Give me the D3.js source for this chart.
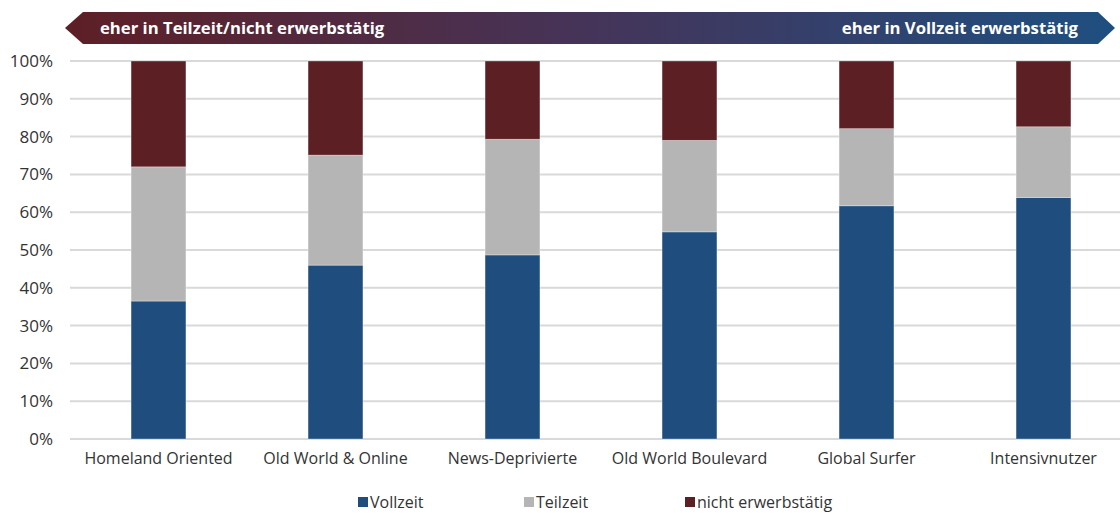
<!DOCTYPE html>
<html>
<head>
<meta charset="utf-8">
<script src="https://cdn.jsdelivr.net/npm/d3@7"></script>
<style>
  body { margin: 0; background: #fff; }
  svg { display: block; font-family: "Open Sans", sans-serif; }
</style>
</head>
<body>
<div class="chart"></div>
<script>
// data
const categories = ['Homeland Oriented', 'Old World & Online', 'News-Deprivierte', 'Old World Boulevard', 'Global Surfer', 'Intensivnutzer'];
const seriesNames = ['Vollzeit', 'Teilzeit', 'nicht erwerbstätig'];
const vollzeit = [36.5, 46.0, 48.7, 54.8, 61.7, 63.9];
const teilzeit = [35.5, 29.1, 30.6, 24.2, 20.4, 18.7];
const nichtErwerbstaetig = [28.0, 24.9, 20.7, 21.0, 17.9, 17.4];
const yTicks = [0, 10, 20, 30, 40, 50, 60, 70, 80, 90, 100];
const bannerLeft = 'eher in Teilzeit/nicht erwerbstätig';
const bannerRight = 'eher in Vollzeit erwerbstätig';

const colors = ['#1f4e7e', '#b5b5b5', '#5c1f24'];

const W = 1120, H = 513;
const margin = { top: 61, left: 70, bottom: 74 };
const plotW = 1062;
const height = H - margin.top - margin.bottom;

const svg = d3.select('.chart')
  .append('svg')
    .attr('width', W)
    .attr('height', H);

// banner with gradient arrow
const defs = svg.append('defs');
const grad = defs.append('linearGradient')
  .attr('id', 'bannerGrad')
  .attr('x1', '0%').attr('x2', '100%').attr('y1', '0%').attr('y2', '0%');
grad.append('stop').attr('offset', '0%').attr('stop-color', '#5e1f26');
grad.append('stop').attr('offset', '50%').attr('stop-color', '#453459');
grad.append('stop').attr('offset', '100%').attr('stop-color', '#1e4f80');

const bTop = 12, bBot = 44, bMid = (bTop + bBot) / 2;
svg.append('path')
  .attr('d', `M65,${bMid} L83,${bTop} L1098,${bTop} L1115,${bMid} L1098,${bBot} L83,${bBot} Z`)
  .attr('fill', 'url(#bannerGrad)');

svg.append('text')
  .attr('x', 100).attr('y', bMid + 6)
  .attr('fill', '#fff')
  .attr('font-size', 16.7)
  .attr('font-weight', 'bold')
  .text(bannerLeft);
svg.append('text')
  .attr('x', 1078).attr('y', bMid + 6)
  .attr('text-anchor', 'end')
  .attr('fill', '#fff')
  .attr('font-size', 16.7)
  .attr('font-weight', 'bold')
  .text(bannerRight);

const g = svg.append('g')
  .attr('transform', `translate(${margin.left}, ${margin.top})`);

const xScale = d3.scaleBand()
  .domain(categories)
  .range([0, plotW])
  .paddingInner(0.69)
  .paddingOuter(0.345);

const yScale = d3.scaleLinear()
  .domain([0, 100])
  .range([height, 0]);

// gridlines
g.append('g')
  .selectAll('line')
  .data(yTicks)
  .enter()
  .append('line')
    .attr('x1', 0)
    .attr('x2', plotW)
    .attr('y1', d => yScale(d))
    .attr('y2', d => yScale(d))
    .attr('stroke', '#d9d9d9')
    .attr('stroke-width', 2);

// y axis labels
const yAxis = d3.axisLeft(yScale)
  .tickValues(yTicks)
  .tickFormat(d => d + '%')
  .tickSize(0)
  .tickPadding(17);
g.append('g')
  .call(yAxis)
  .call(s => s.select('.domain').remove())
  .selectAll('text')
    .attr('font-family', '"Open Sans", sans-serif')
    .attr('font-size', 17)
    .attr('fill', '#333');

// stacked bars
const rows = categories.map((c, i) => ({
  cat: c,
  'Vollzeit': vollzeit[i],
  'Teilzeit': teilzeit[i],
  'nicht erwerbstätig': nichtErwerbstaetig[i]
}));
const stacked = d3.stack().keys(seriesNames)(rows);

g.selectAll('g.series')
  .data(stacked)
  .enter()
  .append('g')
    .attr('class', 'series')
    .attr('fill', (d, i) => colors[i])
  .selectAll('rect')
  .data(d => d)
  .enter()
  .append('rect')
    .attr('x', d => xScale(d.data.cat))
    .attr('y', d => yScale(d[1]))
    .attr('width', xScale.bandwidth())
    .attr('height', d => yScale(d[0]) - yScale(d[1]))
    .attr('stroke', '#fff')
    .attr('stroke-opacity', 0.4)
    .attr('stroke-width', 0.8);

// x axis labels
const xAxis = d3.axisBottom(xScale).tickSize(0).tickPadding(14);
g.append('g')
  .attr('transform', `translate(0, ${height})`)
  .call(xAxis)
  .call(s => s.select('.domain').remove())
  .selectAll('text')
    .attr('font-family', '"Open Sans", sans-serif')
    .attr('font-size', 16)
    .attr('fill', '#333');

// legend
const legendX = [358, 524, 685];
const legend = svg.append('g')
  .selectAll('g')
  .data(seriesNames)
  .enter()
  .append('g')
    .attr('transform', (d, i) => `translate(${legendX[i]}, 497)`);
legend.append('rect')
  .attr('width', 10).attr('height', 10)
  .attr('fill', (d, i) => colors[i]);
legend.append('text')
  .attr('x', 12).attr('y', 11)
  .attr('font-size', 16)
  .attr('fill', '#333')
  .text(d => d);
</script>
</body>
</html>
